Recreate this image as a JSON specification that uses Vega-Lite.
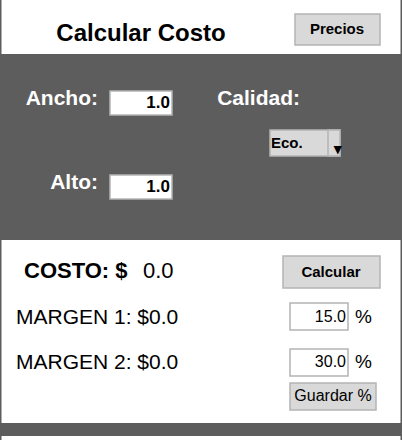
{
  "$schema": "https://vega.github.io/schema/vega-lite/v6.json",
  "width": 402,
  "height": 440,
  "padding": 0,
  "autosize": {"type": "fit", "contains": "padding"},
  "background": "white",
  "config": {"view": {"stroke": null}, "font": "Liberation Sans"},
  "datasets": {
    "panels": [
      {"x": 0, "x2": 402, "y": 54, "y2": 240, "fill": "dark"},
      {"x": 0, "x2": 402, "y": 423, "y2": 436, "fill": "dark"},
      {"x": 0, "x2": 1.5, "y": 0, "y2": 440, "fill": "dark"},
      {"x": 400.5, "x2": 402, "y": 0, "y2": 440, "fill": "dark"}
    ],
    "controls": [
      {"x": 295, "x2": 380, "y": 14, "y2": 45, "fill": "button"},
      {"x": 110, "x2": 172, "y": 91, "y2": 115, "fill": "input"},
      {"x": 110, "x2": 172, "y": 175, "y2": 199, "fill": "input"},
      {"x": 270, "x2": 340, "y": 130, "y2": 156, "fill": "button"},
      {"x": 328, "x2": 340, "y": 130, "y2": 156, "fill": "button"},
      {"x": 283, "x2": 380, "y": 256, "y2": 288, "fill": "button"},
      {"x": 290, "x2": 348, "y": 303, "y2": 330, "fill": "input"},
      {"x": 290, "x2": 348, "y": 349, "y2": 376, "fill": "input"},
      {"x": 290, "x2": 376, "y": 383, "y2": 410, "fill": "button"}
    ],
    "labels": [
      {"x": 141, "y": 34, "text": "Calcular Costo", "style": "title"},
      {"x": 337, "y": 29, "text": "Precios", "style": "btn"},
      {"x": 98, "y": 99, "text": "Ancho:", "style": "white"},
      {"x": 98, "y": 183, "text": "Alto:", "style": "white"},
      {"x": 300, "y": 99, "text": "Calidad:", "style": "white"},
      {"x": 170, "y": 103, "text": "1.0", "style": "val"},
      {"x": 170, "y": 187, "text": "1.0", "style": "val"},
      {"x": 271, "y": 143, "text": "Eco.", "style": "eco"},
      {"x": 334, "y": 149, "text": "▾", "style": "eco"},
      {"x": 24, "y": 271, "text": "COSTO: $", "style": "costo"},
      {"x": 143, "y": 271, "text": "0.0", "style": "costoval"},
      {"x": 331, "y": 272, "text": "Calcular", "style": "btn"},
      {"x": 16, "y": 318, "text": "MARGEN 1: $0.0", "style": "margen"},
      {"x": 16, "y": 363, "text": "MARGEN 2: $0.0", "style": "margen"},
      {"x": 346, "y": 317, "text": "15.0", "style": "pct"},
      {"x": 346, "y": 362, "text": "30.0", "style": "pct"},
      {"x": 355, "y": 317, "text": "%", "style": "pctsign"},
      {"x": 355, "y": 362, "text": "%", "style": "pctsign"},
      {"x": 333, "y": 396, "text": "Guardar %", "style": "guardar"}
    ]
  },
  "encoding": {
    "x": {"field": "x", "type": "quantitative", "scale": {"domain": [0, 402], "nice": false, "zero": false}, "axis": null},
    "y": {"field": "y", "type": "quantitative", "scale": {"domain": [0, 440], "reverse": true, "nice": false, "zero": false}, "axis": null}
  },
  "layer": [
    {
      "data": {"name": "panels"},
      "mark": {"type": "rect", "fill": "#5d5d5d"},
      "encoding": {"x2": {"field": "x2"}, "y2": {"field": "y2"}}
    },
    {
      "data": {"name": "controls"},
      "mark": {"type": "rect", "strokeWidth": 1.5},
      "encoding": {
        "x2": {"field": "x2"}, "y2": {"field": "y2"},
        "fill": {"field": "fill", "type": "nominal", "scale": {"domain": ["button", "input"], "range": ["#d9d9d9", "#ffffff"]}, "legend": null},
        "stroke": {"value": "#b4b4b4"}
      }
    },
    {
      "data": {"name": "labels"},
      "transform": [{"filter": "datum.style == 'title'"}],
      "mark": {"type": "text", "fontSize": 24, "fontWeight": "bold", "color": "black", "align": "center", "baseline": "middle"},
      "encoding": {"text": {"field": "text"}}
    },
    {
      "data": {"name": "labels"},
      "transform": [{"filter": "datum.style == 'btn'"}],
      "mark": {"type": "text", "fontSize": 15, "fontWeight": "bold", "color": "black", "align": "center", "baseline": "middle"},
      "encoding": {"text": {"field": "text"}}
    },
    {
      "data": {"name": "labels"},
      "transform": [{"filter": "datum.style == 'white'"}],
      "mark": {"type": "text", "fontSize": 21, "fontWeight": "bold", "color": "white", "align": "right", "baseline": "middle"},
      "encoding": {"text": {"field": "text"}, "x": {"field": "x", "type": "quantitative"}}
    },
    {
      "data": {"name": "labels"},
      "transform": [{"filter": "datum.style == 'val'"}],
      "mark": {"type": "text", "fontSize": 17, "fontWeight": "bold", "color": "black", "align": "right", "baseline": "middle"},
      "encoding": {"text": {"field": "text"}}
    },
    {
      "data": {"name": "labels"},
      "transform": [{"filter": "datum.style == 'eco'"}],
      "mark": {"type": "text", "fontSize": 15, "fontWeight": "bold", "color": "black", "align": "left", "baseline": "middle"},
      "encoding": {"text": {"field": "text"}}
    },
    {
      "data": {"name": "labels"},
      "transform": [{"filter": "datum.style == 'costo'"}],
      "mark": {"type": "text", "fontSize": 22, "fontWeight": "bold", "color": "black", "align": "left", "baseline": "middle"},
      "encoding": {"text": {"field": "text"}}
    },
    {
      "data": {"name": "labels"},
      "transform": [{"filter": "datum.style == 'costoval'"}],
      "mark": {"type": "text", "fontSize": 22, "color": "black", "align": "left", "baseline": "middle"},
      "encoding": {"text": {"field": "text"}}
    },
    {
      "data": {"name": "labels"},
      "transform": [{"filter": "datum.style == 'margen'"}],
      "mark": {"type": "text", "fontSize": 21, "color": "black", "align": "left", "baseline": "middle"},
      "encoding": {"text": {"field": "text"}}
    },
    {
      "data": {"name": "labels"},
      "transform": [{"filter": "datum.style == 'pct'"}],
      "mark": {"type": "text", "fontSize": 16, "color": "black", "align": "right", "baseline": "middle"},
      "encoding": {"text": {"field": "text"}}
    },
    {
      "data": {"name": "labels"},
      "transform": [{"filter": "datum.style == 'pctsign'"}],
      "mark": {"type": "text", "fontSize": 19, "color": "black", "align": "left", "baseline": "middle"},
      "encoding": {"text": {"field": "text"}}
    },
    {
      "data": {"name": "labels"},
      "transform": [{"filter": "datum.style == 'guardar'"}],
      "mark": {"type": "text", "fontSize": 16, "color": "black", "align": "center", "baseline": "middle"},
      "encoding": {"text": {"field": "text"}}
    }
  ]
}
